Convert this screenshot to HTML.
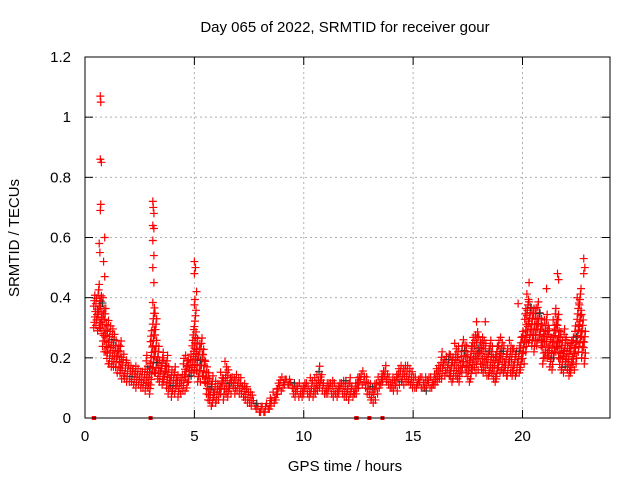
<!DOCTYPE html>
<html><head><meta charset="utf-8"><style>
body{margin:0;background:#fff}
svg{display:block;font-family:"Liberation Sans",sans-serif}
</style></head><body>
<svg id="c" width="640" height="480">
<rect width="640" height="480" fill="#fff"/>
<g id="grid"></g><g id="marks"></g><g id="axes"></g>
<text x="345" y="32" font-size="15" text-anchor="middle">Day 065 of 2022, SRMTID for receiver gour</text>
<text x="345" y="471" font-size="15" text-anchor="middle">GPS time / hours</text>
<text transform="translate(19,238) rotate(-90)" font-size="15" text-anchor="middle">SRMTID / TECUs</text>
</svg>
<script>
const xTicks=[0,5,10,15,20];
const yTicks=[0,0.2,0.4,0.6,0.8,1,1.2];
const yTickLabels=["0","0.2","0.4","0.6","0.8","1","1.2"];
const bandStart=0.4, bandStep=0.1;
const bandLo=[0.30,0.29,0.30,0.28,0.22,0.22,0.18,0.18,0.17,0.17,0.15,0.17,0.13,0.14,0.13,0.12,0.12,0.12,0.11,0.10,0.11,0.10,0.10,0.09,0.10,0.08,0.11,0.15,0.15,0.13,0.12,0.11,0.12,0.10,0.08,0.07,0.09,0.08,0.07,0.08,0.09,0.09,0.10,0.12,0.14,0.15,0.16,0.12,0.12,0.14,0.12,0.08,0.06,0.04,0.05,0.05,0.06,0.06,0.08,0.06,0.08,0.07,0.08,0.10,0.08,0.09,0.08,0.08,0.07,0.06,0.05,0.05,0.04,0.04,0.03,0.02,0.02,0.02,0.02,0.03,0.03,0.04,0.05,0.06,0.08,0.09,0.10,0.11,0.11,0.11,0.10,0.08,0.07,0.07,0.08,0.07,0.08,0.08,0.07,0.08,0.07,0.08,0.09,0.10,0.09,0.08,0.08,0.08,0.08,0.07,0.08,0.07,0.08,0.08,0.07,0.07,0.06,0.08,0.07,0.08,0.08,0.10,0.11,0.12,0.10,0.08,0.06,0.05,0.06,0.08,0.10,0.11,0.12,0.12,0.11,0.10,0.10,0.09,0.09,0.11,0.12,0.11,0.12,0.12,0.11,0.10,0.10,0.10,0.11,0.10,0.10,0.10,0.09,0.10,0.10,0.11,0.11,0.12,0.13,0.13,0.14,0.15,0.14,0.12,0.13,0.14,0.13,0.12,0.15,0.17,0.15,0.12,0.13,0.16,0.15,0.16,0.18,0.16,0.15,0.14,0.14,0.15,0.13,0.12,0.13,0.15,0.16,0.15,0.14,0.14,0.15,0.14,0.14,0.15,0.15,0.16,0.18,0.22,0.25,0.26,0.24,0.22,0.24,0.26,0.24,0.18,0.20,0.20,0.17,0.16,0.20,0.22,0.20,0.16,0.15,0.17,0.16,0.14,0.15,0.16,0.18,0.22,0.25,0.20,0.18];
const bandHi=[0.42,0.41,0.45,0.42,0.40,0.38,0.34,0.32,0.30,0.28,0.26,0.25,0.26,0.22,0.20,0.20,0.19,0.18,0.17,0.18,0.18,0.17,0.16,0.17,0.22,0.18,0.30,0.40,0.35,0.25,0.20,0.22,0.20,0.22,0.18,0.17,0.16,0.18,0.15,0.14,0.16,0.20,0.22,0.20,0.22,0.30,0.40,0.28,0.26,0.28,0.24,0.20,0.15,0.14,0.14,0.13,0.12,0.12,0.16,0.14,0.20,0.17,0.15,0.15,0.14,0.15,0.14,0.14,0.12,0.12,0.12,0.09,0.08,0.07,0.06,0.05,0.05,0.05,0.05,0.06,0.07,0.07,0.09,0.10,0.12,0.13,0.14,0.14,0.14,0.14,0.13,0.12,0.11,0.11,0.12,0.11,0.13,0.13,0.12,0.14,0.13,0.14,0.16,0.18,0.16,0.13,0.12,0.13,0.13,0.13,0.12,0.12,0.13,0.12,0.13,0.13,0.12,0.14,0.12,0.13,0.14,0.14,0.16,0.17,0.15,0.13,0.12,0.11,0.12,0.13,0.14,0.15,0.17,0.18,0.16,0.15,0.14,0.14,0.15,0.18,0.19,0.17,0.18,0.18,0.17,0.16,0.15,0.15,0.14,0.14,0.14,0.14,0.13,0.14,0.15,0.16,0.18,0.19,0.20,0.22,0.21,0.22,0.22,0.22,0.21,0.25,0.24,0.20,0.24,0.27,0.25,0.21,0.24,0.28,0.28,0.30,0.28,0.27,0.26,0.25,0.24,0.27,0.24,0.22,0.25,0.26,0.27,0.24,0.22,0.24,0.26,0.24,0.24,0.23,0.24,0.27,0.30,0.38,0.42,0.40,0.38,0.37,0.38,0.40,0.36,0.32,0.34,0.36,0.30,0.28,0.34,0.38,0.36,0.30,0.27,0.30,0.28,0.26,0.27,0.28,0.32,0.40,0.44,0.36,0.30];
const spikeX=[0.7,0.72,0.75,0.7,0.72,0.7,0.65,0.68,0.9,0.85,0.9,3.1,3.12,3.15,3.1,3.15,3.1,3.15,3.1,3.15,5.0,5.05,5.0,5.1,20.3,21.6,21.65,22.8,22.85,22.8,21.1,19.8,17.9,18.3];
const spikeY=[1.07,1.05,0.85,0.86,0.71,0.69,0.58,0.55,0.60,0.52,0.47,0.72,0.70,0.68,0.64,0.63,0.59,0.54,0.50,0.45,0.52,0.50,0.48,0.42,0.45,0.48,0.46,0.53,0.50,0.48,0.43,0.38,0.32,0.32];
const zeroX=[0.4,0.42,3.0,12.4,12.42,13.0,13.6];
const L=85,R=610,T=57,B=418;
const sx=h=>L+(h/24)*(R-L);
const sy=v=>B-(v/1.2)*(B-T);
const NS="http://www.w3.org/2000/svg";
function mk(tag,attrs,parent){const e=document.createElementNS(NS,tag);for(const k in attrs)e.setAttribute(k,attrs[k]);parent.appendChild(e);return e;}
const grid=document.getElementById('grid'),axes=document.getElementById('axes'),marks=document.getElementById('marks');
xTicks.forEach((t,i)=>{
 if(t>0){const g=mk('line',{x1:sx(t),x2:sx(t),y1:T,y2:B,stroke:'#b0b0b0','stroke-dasharray':'2,3'},grid);
 
 }
 const tk=mk('line',{x1:sx(t),x2:sx(t),y1:B,y2:B-8,stroke:'#000'},axes);
 
 
 const tk2=mk('line',{x1:sx(t),x2:sx(t),y1:T,y2:T+8,stroke:'#000'},axes);
 
 
 const tx=mk('text',{x:sx(t),y:B+23,'font-size':15,'text-anchor':'middle'},axes);tx.textContent=String(t);
 
 
});
yTicks.forEach((t,i)=>{
 if(t>0&&t<1.2){const g=mk('line',{x1:L,x2:R,y1:sy(t),y2:sy(t),stroke:'#b0b0b0','stroke-dasharray':'2,3'},grid);
 
 }
 const tk=mk('line',{x1:L,x2:L+8,y1:sy(t),y2:sy(t),stroke:'#000'},axes);
 
 
 const tk2=mk('line',{x1:R,x2:R-8,y1:sy(t),y2:sy(t),stroke:'#000'},axes);
 
 
 const tx=mk('text',{x:L-14,y:sy(t)+5,'font-size':15,'text-anchor':'end'},axes);tx.textContent=yTickLabels[i];
 
 
});
const fr=mk('rect',{x:L,y:T,width:R-L,height:B-T,fill:'none',stroke:'#000'},axes);


function plus(x,y,col){
 const p=mk('path',{d:`M${x-4},${y}h8M${x},${y-4}v8`,stroke:col,'stroke-width':1.2},marks);
 
 
}
let k=0;
bandLo.forEach((lo,i)=>{
 const h=bandStart+i*bandStep, hi=bandHi[i];
 for(let v=lo;v<=hi+1e-9;v+=0.018){
  const off=(k%4)*0.025; k++;
  plus(sx(h+off),sy(v),(k%41==0)?'#333':'#f00');
 }
});
spikeX.forEach((x,i)=>plus(sx(x),sy(spikeY[i]),'#f00'));
zeroX.forEach(x=>{
 const r=mk('rect',{x:sx(x)-2,y:sy(0)-2,width:4,height:4,fill:'#f00'},marks);
 
 
});
</script>
</body></html>
